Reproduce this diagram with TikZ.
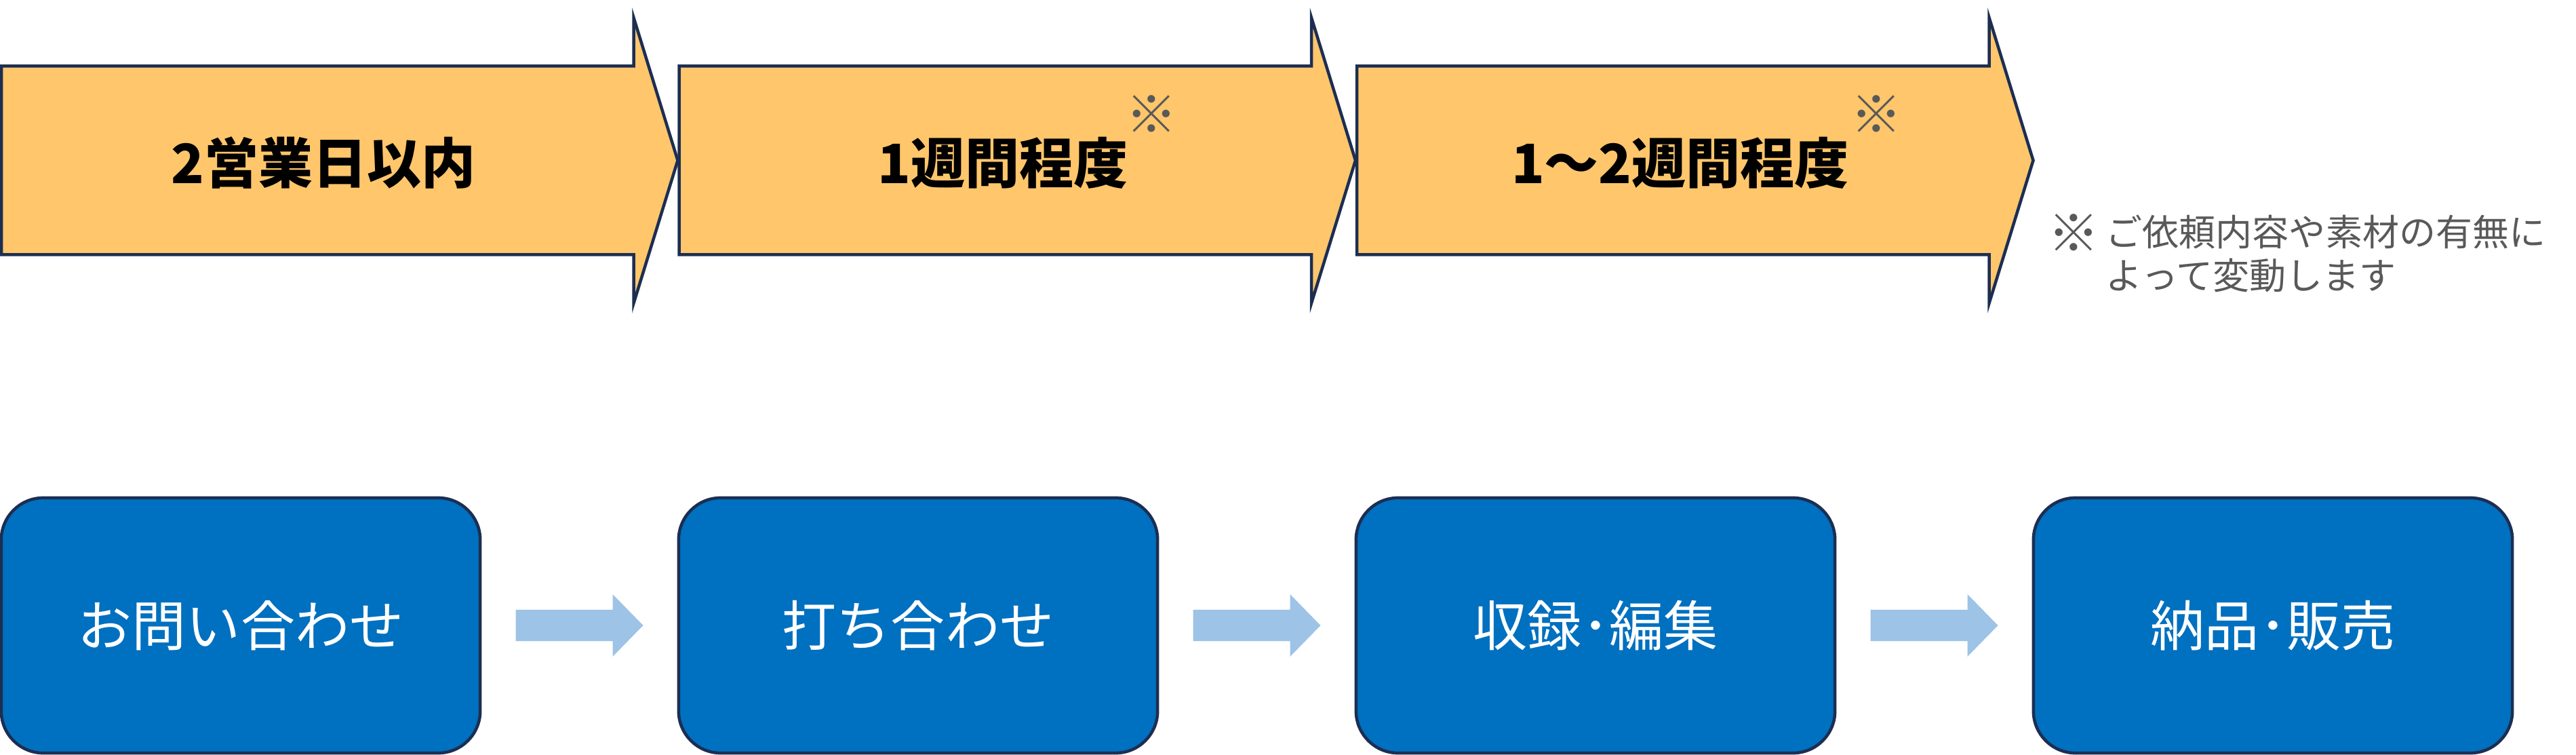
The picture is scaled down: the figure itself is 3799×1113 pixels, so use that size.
\documentclass[tikz,border=0pt]{standalone}
\usepackage{fontspec}
\setmainfont{Noto Sans CJK JP}
\usetikzlibrary{calc}
\definecolor{arrowfill}{HTML}{FFC66B}
\definecolor{navy}{HTML}{1C2E52}
\definecolor{boxblue}{HTML}{0070C0}
\definecolor{lightblue}{HTML}{9DC3E6}
\definecolor{notegray}{HTML}{595959}
\begin{document}
\begin{tikzpicture}[x=0.01cm,y=-0.01cm,
  chevron/.style={fill=arrowfill, draw=navy, line width=0.045cm, line join=miter},
  toptext/.style={inner sep=0pt, text=black, font=\fontsize{22.76pt}{27pt}\selectfont\bfseries},
  notemark/.style={inner sep=0pt, text=notegray, font=\fontsize{21.5pt}{24pt}\selectfont\bfseries},
  notetext/.style={inner sep=0pt, text=notegray, font=\fontsize{15.37pt}{18pt}\selectfont},
  stepbox/.style={draw=navy, fill=boxblue, line width=0.045cm, rounded corners=0.62cm,
    minimum width=7.06cm, minimum height=3.76cm, inner sep=0pt, text=white,
    font=\fontsize{22.76pt}{27pt}\selectfont},
  blockarrow/.style={fill=lightblue, draw=none}]
\useasboundingbox (0,0) rectangle (3799,1113);

% top chevron arrows
\foreach \x in {2,1001.5,2001}{
  \draw[chevron] (\x,97.5) -- ++(932.5,0) -- ++(0,-71.5) -- ++(65,210.5)
    -- ++(-65,210.5) -- ++(0,-71.5) -- ++(-932.5,0) -- cycle;
}
\node[toptext, anchor=base] (t1) at (477,271) {2営業日以内};
\node[toptext, anchor=base] (t2) at (1479,271) {1週間程度};
\node[toptext, anchor=base] (t3) at (2478,271) {1〜2週間程度};
\node[notemark] (m2) at (1698,168.5) {※};
\node[notemark] (m3) at (2767,168.5) {※};

% footnote
\node[notemark] (n0) at (3058,343.5) {※};
\node[notetext, anchor=base west] (n1) at (3105,363) {ご依頼内容や素材の有無に};
\node[notetext, anchor=base west] (n2) at (3105,427) {よって変動します};

% process boxes
\node[stepbox] (b1) at (355,922) {お問い合わせ};
\node[stepbox] (b2) at (1354,922) {打ち合わせ};
\node[stepbox] (b3) at (2353,922) {収録･編集};
\node[stepbox] (b4) at (3352,922) {納品･販売};

% block arrows between boxes
\foreach \a/\b in {b1/b2,b2/b3,b3/b4}{
  \coordinate (c-\a) at ($(\a.east)!0.5!(\b.west)$);
  \begin{scope}[shift={(c-\a)}]
    \fill[blockarrow] (-94,-23) -- (49,-23) -- (49,-46) -- (94,0) -- (49,46) -- (49,23) -- (-94,23) -- cycle;
  \end{scope}
}
\end{tikzpicture}
\end{document}
